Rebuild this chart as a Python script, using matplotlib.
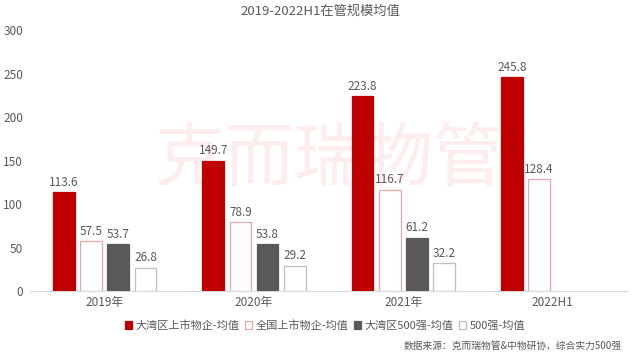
import numpy as np
import matplotlib.pyplot as plt
from matplotlib.patches import Patch

plt.rcParams['font.family'] = ['Noto Sans CJK SC', 'DejaVu Sans']

categories = ["2019年", "2020年", "2021年", "2022H1"]
series_names = ["大湾区上市物企-均值", "全国上市物企-均值", "大湾区500强-均值", "500强-均值"]
gba_listed = [113.6, 149.7, 223.8, 245.8]
nat_listed = [57.5, 78.9, 116.7, 128.4]
gba_500 = [53.7, 53.8, 61.2, None]
top_500 = [26.8, 29.2, 32.2, None]

values = [gba_listed, nat_listed, gba_500, top_500]
faces = ["#C00000", "white", "#595959", "white"]
edges = ["#C00000", "#E6A9A9", "#595959", "#BFBFBF"]
txt = "#595959"

fig = plt.figure(figsize=(6.4, 3.55), dpi=100)
ax = fig.add_axes([0.047, 0.18, 0.933, 0.735])

x = np.arange(len(categories))
pitch = 0.182
width = 0.145
for i, (vals, fc, ec) in enumerate(zip(values, faces, edges)):
    xs = [xi + (i - 1.5) * pitch for xi, v in zip(x, vals) if v is not None]
    vs = [v for v in vals if v is not None]
    ax.bar(xs, vs, width=width, color=fc, edgecolor=ec, linewidth=0.9, zorder=3)
    for xx, v in zip(xs, vs):
        ax.text(xx, v + 4, f"{v:.1f}", ha="center", va="bottom", fontsize=8.5, color=txt, zorder=4)

ax.set_xlim(-0.5, 3.5)
ax.set_ylim(0, 300)
ax.set_yticks(range(0, 301, 50))
ax.set_xticks(x)
ax.set_xticklabels(categories)
ax.tick_params(axis="both", length=0, labelsize=8.5, colors=txt)
ax.tick_params(axis="y", pad=5)
for s in ["top", "right", "left"]:
    ax.spines[s].set_visible(False)
ax.spines["bottom"].set_color("#D9D9D9")

ax.text(0.5, 0.5, "克而瑞物管", transform=ax.transAxes, ha="center", va="center",
        fontsize=50, color="#FDEDED", zorder=1)

fig.text(0.5, 0.967, "2019-2022H1在管规模均值", ha="center", va="center", fontsize=9.5, color=txt)

handles = [Patch(facecolor=fc, edgecolor=ec, linewidth=0.9) for fc, ec in zip(faces, edges)]
fig.legend(handles, series_names, loc="center", bbox_to_anchor=(0.508, 0.083), ncol=4,
           frameon=False, fontsize=8, handlelength=0.65, handleheight=0.65,
           handletextpad=0.3, columnspacing=0.5, labelcolor=txt)

fig.text(0.972, 0.025, "数据来源：克而瑞物管&中物研协，综合实力500强", ha="right", va="center",
         fontsize=7, color=txt)

fig.savefig("out.png", dpi=100)
